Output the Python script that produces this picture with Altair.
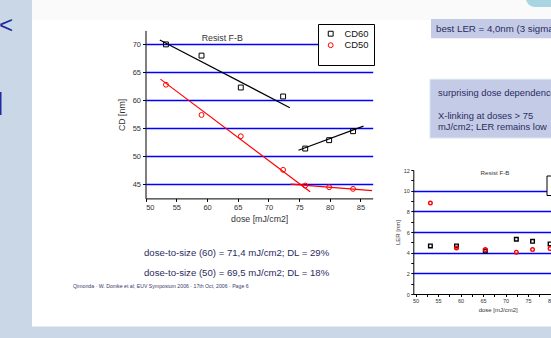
import altair as alt
import pandas as pd

FONT = "Liberation Sans"

# ---------------- data ----------------
series_names = ["CD60", "CD50"]
dose = [53.3, 59.1, 65.5, 72.4, 76.0, 79.9, 83.8]
cd60 = [70.0, 68.0, 62.3, 60.7, 51.4, 52.9, 54.5]
cd50 = [62.8, 57.4, 53.6, 47.6, 44.8, 44.5, 44.2]

fit_id = ["60a", "60a", "60b", "60b", "50a", "50a", "50b", "50b"]
fit_series = ["CD60", "CD60", "CD60", "CD60", "CD50", "CD50", "CD50", "CD50"]
fit_dose = [52.3, 73.5, 74.9, 85.5, 52.4, 76.8, 73.6, 86.9]
fit_cd = [70.8, 58.7, 51.1, 55.4, 63.8, 43.7, 45.05, 43.9]

ler_dose = [53.3, 59.1, 65.5, 72.4, 76.0, 79.9]
ler60 = [4.65, 4.65, 4.15, 5.3, 5.1, 4.85]
ler50 = [8.8, 4.45, 4.3, 4.05, 4.3, 4.4]

cd_ticks = [45, 50, 55, 60, 65, 70]
dose_ticks = [50, 55, 60, 65, 70, 75, 80, 85]
ler_ticks = [0, 1, 2, 3, 4, 5, 6, 7, 8, 9, 10, 11, 12]
ler_dose_ticks = [50, 52.5, 55, 57.5, 60, 62.5, 65, 67.5, 70, 72.5, 75, 77.5, 80, 82.5, 85]

df_cd = pd.DataFrame({
    "dose": dose + dose,
    "cd": cd60 + cd50,
    "series": [series_names[0]] * len(dose) + [series_names[1]] * len(dose),
})
df_fit = pd.DataFrame({"seg": fit_id, "series": fit_series, "dose": fit_dose, "cd": fit_cd})
df_ler = pd.DataFrame({
    "dose": ler_dose + ler_dose,
    "ler": ler60 + ler50,
    "series": [series_names[0]] * len(ler_dose) + [series_names[1]] * len(ler_dose),
})

# ---------------- main chart ----------------
sx = alt.Scale(domain=[50, 87], range=[145.7, 372.7], nice=False, zero=False)
sy = alt.Scale(domain=[42.5, 72.5], range=[198.4, 30.4], nice=False, zero=False)

ax_common = dict(labelFont=FONT, titleFont=FONT, labelColor="#333", titleColor="#333",
                 titleFontWeight="normal", domainColor="#000", tickColor="#000",
                 domainWidth=1, tickWidth=1)
ax_x = alt.Axis(orient="bottom", offset=-139.6, values=dose_ticks, format="d", grid=False,
                title="dose [mJ/cm2]", titleFontSize=8.8, titlePadding=4,
                labelFontSize=7.5, labelPadding=2, tickSize=3, **ax_common)
ax_y = alt.Axis(orient="left", offset=-145.5, values=cd_ticks, format="d", grid=True,
                gridColor="#0000ff", gridWidth=1.3, gridOpacity=1,
                title="CD [nm]", titleFontSize=8.8, titlePadding=6,
                labelFontSize=7.5, labelPadding=2, tickSize=3, **ax_common)

# a blank title at the bottom gives the legend box its extra lower margin
leg_main = alt.Legend(orient="none", legendX=318, legendY=24, title=" ",
                      titleOrient="bottom", titleFontSize=8, titlePadding=2,
                      padding=5, strokeColor="#000000", fillColor="#ffffff",
                      labelFont=FONT, labelFontSize=9.4, labelColor="#111111",
                      symbolSize=24, symbolStrokeWidth=1, symbolOffset=3, labelOffset=9,
                      rowPadding=0.5)

main_lines = alt.Chart(df_fit).mark_line(strokeWidth=1.2).encode(
    x=alt.X("dose:Q", scale=sx, axis=None),
    y=alt.Y("cd:Q", scale=sy, axis=None),
    detail="seg:N",
    stroke=alt.Stroke("series:N", scale=alt.Scale(domain=series_names, range=["#000000", "#ff0000"]),
                      legend=None),
)
main_pts = alt.Chart(df_cd).mark_point(filled=False, size=24, strokeWidth=1, opacity=1).encode(
    x=alt.X("dose:Q", scale=sx, axis=ax_x),
    y=alt.Y("cd:Q", scale=sy, axis=ax_y),
    color=alt.Color("series:N", scale=alt.Scale(domain=series_names, range=["#000000", "#ff0000"]),
                    legend=leg_main),
    shape=alt.Shape("series:N", scale=alt.Scale(domain=series_names, range=["square", "circle"]),
                    legend=leg_main),
)

# ---------------- right (LER) chart ----------------
sx2 = alt.Scale(domain=[49.5, 87], range=[413.3, 582.05], nice=False, zero=False)
sy2 = alt.Scale(domain=[0, 12], range=[294, 170], nice=False, zero=True)

ax_x2 = alt.Axis(orient="bottom", offset=-44, values=ler_dose_ticks, format=".0f",
                 labelExpr="datum.value % 5 == 0 ? datum.label : ''", grid=False,
                 title="dose [mJ/cm2]", titleFontSize=6, titlePadding=2,
                 labelFontSize=5.5, labelPadding=2, tickSize=2.5, **ax_common)
ax_y2 = alt.Axis(orient="left", offset=-413.3, values=ler_ticks, format="d",
                 labelExpr="datum.value % 2 == 0 ? datum.label : ''", grid=True,
                 gridColor="#0000ff", gridWidth=1.3,
                 gridOpacity={"condition": {"test": "datum.value % 2 == 0 && datum.value > 0 && datum.value < 12",
                                            "value": 1}, "value": 0},
                 title="LER [nm]", titleFontSize=6, titlePadding=3,
                 labelFontSize=5.5, labelPadding=1.5, tickSize=2.5, **ax_common)

right_pts = alt.Chart(df_ler).mark_point(filled=False, size=13, strokeWidth=1.4, opacity=1).encode(
    x=alt.X("dose:Q", scale=sx2, axis=ax_x2),
    y=alt.Y("ler:Q", scale=sy2, axis=ax_y2),
    color=alt.Color("series:N", sort=series_names,
                    scale=alt.Scale(range=["#000000", "#ff0000"]), legend=None),
    shape=alt.Shape("series:N", sort=series_names,
                    scale=alt.Scale(range=["square", "circle"]), legend=None),
)

# ---------------- slide decoration ----------------
one = alt.Data(values=[{"k": 1}])


def rect(x, x2, y, y2, color, **kw):
    return alt.Chart(one).mark_rect(color=color, **kw).encode(
        x=alt.value(x), x2=alt.value(x2), y=alt.value(y), y2=alt.value(y2))


def label(txt, x, y, size, color, align="left", **kw):
    return alt.Chart(one).mark_text(text=txt, fontSize=size, color=color, align=align,
                                    baseline="middle", font=FONT, **kw).encode(
        x=alt.value(x), y=alt.value(y))


NAVY = "#2d2b5e"
BOX = "#c3cbe7"
SIDE = "#c9d7e6"

bg_layers = [
    rect(32, 551, 0, 20, "#fafafa"),
    rect(0, 32, 0, 338, SIDE),
    rect(0, 551, 326.5, 338, SIDE),
    rect(526, 570, -14, 7, "#a9d5e2", cornerRadius=9),
    rect(431, 560, 19, 38.3, BOX),
    rect(430, 560, 79.3, 138, BOX, stroke="#d6e6ef", strokeWidth=1),
]

fg_layers = [
    # edge of the (cut-off) legend box of the small LER chart
    rect(547, 580, 176, 195.5, "#ffffff", stroke="#000000", strokeWidth=1),
    label("<", -1, 26, 24, "#1e2c9e"),
    rect(0, 1.5, 92, 115, "#1e2c9e"),
    label("best LER = 4,0nm (3 sigma)", 436, 29, 9.7, NAVY),
    label("surprising dose dependence", 438, 93, 9.4, NAVY),
    label("X-linking at doses > 75", 438, 115.5, 9.4, NAVY),
    label("mJ/cm2; LER remains low", 438, 127, 9.4, NAVY),
    label("Resist F-B", 201.7, 37.5, 8.8, "#333"),
    label("Resist F-B", 495, 173, 6.2, "#333", align="center"),
    label("dose-to-size (60)  = 71,4 mJ/cm2; DL = 29%", 144, 253, 9.6, NAVY),
    label("dose-to-size (50)  = 69,5 mJ/cm2; DL = 18%", 144, 273, 9.6, NAVY),
    label("Qimonda \u00b7 W. Domke et al; EUV Symposium 2006 \u00b7 17th Oct, 2006 \u00b7 Page 6",
          73, 286, 5.2, "#3a3a6a"),
]

chart = alt.layer(*bg_layers, main_lines, main_pts, right_pts, *fg_layers).resolve_scale(
    x="independent", y="independent", color="independent", shape="independent",
    stroke="independent",
).properties(
    width=551, height=338, padding=0,
    autosize=alt.AutoSizeParams(type="none"),
    background="#ffffff",
).configure_view(stroke=None)

chart.save("out.html", embed_options={"renderer": "svg", "actions": False})
